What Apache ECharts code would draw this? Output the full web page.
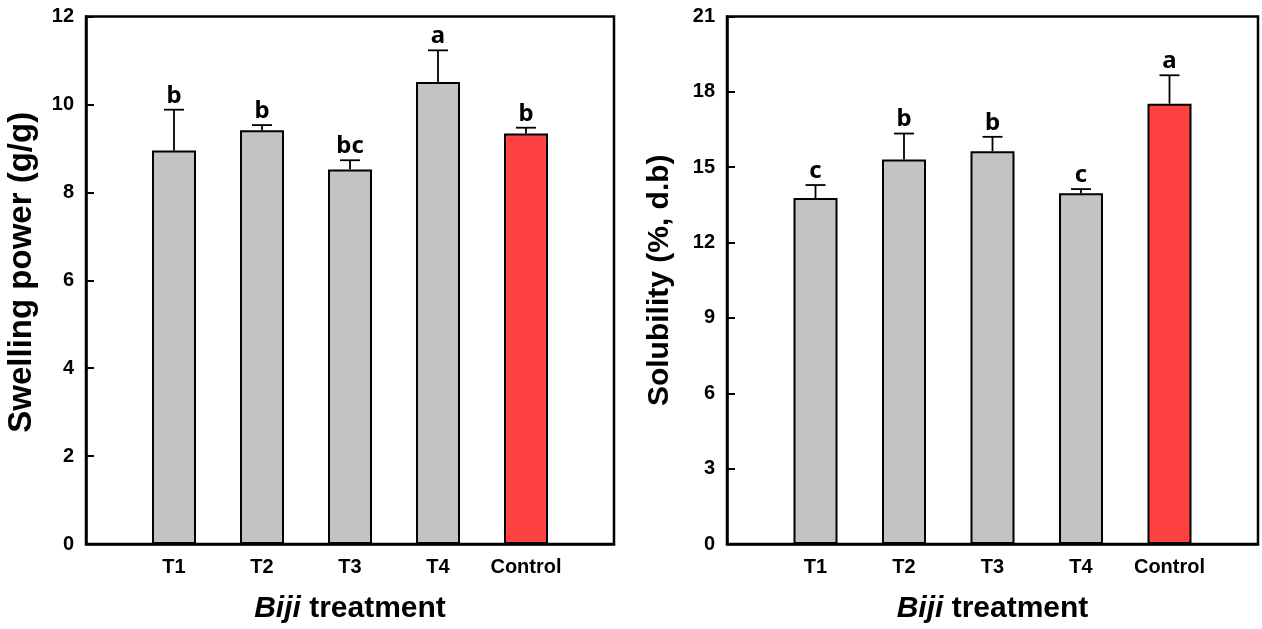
<!DOCTYPE html>
<html>
<head>
<meta charset="utf-8">
<script src="https://cdn.jsdelivr.net/npm/echarts@6/dist/echarts.min.js"></script>
<style>
  html, body { margin: 0; padding: 0; background: #fff; }
  #chart { width: 1262px; height: 629px; }
</style>
</head>
<body>
<div id="chart"></div>
<script>
// Treatment groups shown on both panels
const categories = ['T1', 'T2', 'T3', 'T4', 'Control'];

// Swelling power (g/g): mean, standard deviation, significance letters
const swellingMean = [8.95, 9.41, 8.52, 10.51, 9.34];
const swellingSD = [0.93, 0.12, 0.21, 0.72, 0.13];
const swellingLetters = ['b', 'b', 'bc', 'a', 'b'];

// Solubility (%, d.b): mean, standard deviation, significance letters
const solubilityMean = [13.77, 15.31, 15.64, 13.96, 17.53];
const solubilitySD = [0.52, 1.03, 0.57, 0.17, 1.13];
const solubilityLetters = ['c', 'b', 'b', 'c', 'a'];

// Y-axis ranges
const swellingAxis = { min: 0, max: 12, interval: 2 };
const solubilityAxis = { min: 0, max: 21, interval: 3 };

const GREY = '#c3c3c3';
const RED = '#fe4242';
const FONT = '"Liberation Sans", Arial, sans-serif';

// Empty slots on both ends leave a gap of one step beside the frame
const axisCats = [''].concat(categories, ['']);

function barData(means) {
  const out = [null];
  means.forEach(function (v, i) {
    out.push({ value: v, itemStyle: { color: categories[i] === 'Control' ? RED : GREY } });
  });
  out.push(null);
  return out;
}

function errData(means, sds, letters) {
  return means.map(function (v, i) { return [i + 1, v, sds[i], letters[i]]; });
}

// Upper error bar with cap, and the significance letter above it
function renderErr(params, api) {
  const x = api.value(0);
  const mean = api.value(1);
  const sd = api.value(2);
  const letter = api.value(3);
  const base = api.coord([x, mean]);
  const top = api.coord([x, mean + sd]);
  const half = 10;
  return {
    type: 'group',
    children: [
      { type: 'line', shape: { x1: base[0], y1: base[1], x2: top[0], y2: top[1] },
        style: { stroke: '#000', lineWidth: 1.8 } },
      { type: 'line', shape: { x1: top[0] - half, y1: top[1], x2: top[0] + half, y2: top[1] },
        style: { stroke: '#000', lineWidth: 1.8 } },
      { type: 'text', x: top[0], y: top[1] - 2,
        style: { text: letter, fill: '#000', font: 'bold 24px "Noto Sans", "Open Sans", sans-serif',
                 textAlign: 'center', textVerticalAlign: 'bottom' } }
    ]
  };
}

function xAxis(gridIndex) {
  return {
    type: 'category', gridIndex: gridIndex, data: axisCats, boundaryGap: false,
    axisLine: { lineStyle: { color: '#000', width: 2.5 } },
    axisTick: { show: false },
    axisLabel: { color: '#000', fontFamily: FONT, fontWeight: 'bold', fontSize: 20, margin: 13,
                 interval: 0 },
    name: '{i|Biji} treatment',
    nameLocation: 'middle', nameGap: 50,
    nameTextStyle: {
      color: '#000', fontFamily: FONT, fontWeight: 'bold', fontSize: 30,
      rich: { i: { fontFamily: FONT, fontWeight: 'bold', fontStyle: 'italic', fontSize: 30, color: '#000' } }
    }
  };
}

function yAxis(gridIndex, range, title, titleSize, titlePad, titleGap) {
  return {
    type: 'value', gridIndex: gridIndex, min: range.min, max: range.max, interval: range.interval,
    axisLine: { show: true, lineStyle: { color: '#000', width: 2.5 } },
    axisTick: { show: true, inside: true, length: 8, lineStyle: { color: '#000', width: 2 } },
    splitLine: { show: false },
    axisLabel: { color: '#000', fontFamily: FONT, fontWeight: 'bold', fontSize: 20, margin: 12 },
    name: title, nameLocation: 'middle', nameGap: titleGap,
    nameTextStyle: { color: '#000', fontFamily: FONT, fontWeight: 'bold', fontSize: titleSize,
                     padding: titlePad }
  };
}

const chart = echarts.init(document.getElementById('chart'), null, { renderer: 'canvas' });

chart.setOption({
  backgroundColor: '#fff',
  animation: false,
  grid: [
    { left: 86, right: 648, top: 16.5, bottom: 84, show: true, borderColor: '#000', borderWidth: 2.5,
      backgroundColor: 'transparent' },
    { left: 727, right: 4, top: 16.5, bottom: 84, show: true, borderColor: '#000', borderWidth: 2.5,
      backgroundColor: 'transparent' }
  ],
  xAxis: [xAxis(0), xAxis(1)],
  yAxis: [
    yAxis(0, swellingAxis, 'Swelling power (g/g)', 33, [0, 0, 0, 16], 48),
    yAxis(1, solubilityAxis, 'Solubility (%, d.b)', 30, 0, 52)
  ],
  series: [
    { type: 'bar', xAxisIndex: 0, yAxisIndex: 0, barWidth: 44, data: barData(swellingMean),
      itemStyle: { borderColor: '#000', borderWidth: 2 } },
    { type: 'custom', xAxisIndex: 0, yAxisIndex: 0, renderItem: renderErr, z: 5,
      data: errData(swellingMean, swellingSD, swellingLetters),
      encode: { x: 0, y: 1 } },
    { type: 'bar', xAxisIndex: 1, yAxisIndex: 1, barWidth: 44, data: barData(solubilityMean),
      itemStyle: { borderColor: '#000', borderWidth: 2 } },
    { type: 'custom', xAxisIndex: 1, yAxisIndex: 1, renderItem: renderErr, z: 5,
      data: errData(solubilityMean, solubilitySD, solubilityLetters),
      encode: { x: 0, y: 1 } }
  ]
});
</script>
</body>
</html>
